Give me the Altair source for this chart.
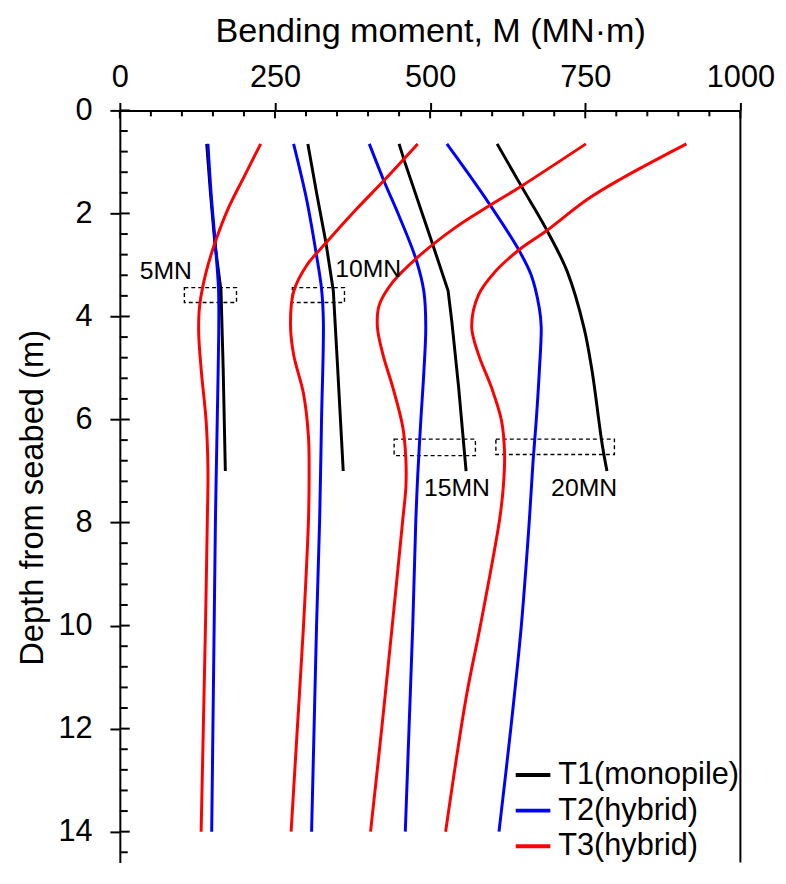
import altair as alt
import pandas as pd

FONT = "Liberation Sans, Arial, sans-serif"

series_names = ["T1(monopile)", "T2(hybrid)", "T3(hybrid)"]
series_colors = ["#000000", "#0000ff", "#ff0000"]
load_names = ["5MN", "10MN", "15MN", "20MN"]

# ---- T1 (monopile) ----
t1_5_depth = [0.65, 1.6, 2.56, 3.5, 5.0, 7.0]
t1_5_M = [140, 146, 153, 163, 166.5, 170]
t1_10_depth = [0.65, 1.6, 2.56, 3.5, 5.0, 7.0]
t1_10_M = [303, 317, 332, 344, 351, 360]
t1_15_depth = [0.65, 0.96, 2.56, 3.5, 4.1, 5.38, 7.0]
t1_15_M = [450, 458, 503, 529, 535, 546, 558]
t1_20_depth = [0.65, 1.47, 2.3, 3.13, 4.22, 5.06, 6.46, 7.0]
t1_20_M = [608, 647, 687, 721, 748, 761, 777, 785]

# ---- T2 (hybrid) ----
t2_5_depth = [0.65, 1.6, 2.56, 3.46, 4.1, 5.0, 6.0, 8.0, 10, 12, 14]
t2_5_M = [142, 147, 153.6, 159, 159.5, 158.5, 157, 154, 152, 150, 148]
t2_10_depth = [0.65, 1.73, 2.82, 3.46, 4.1, 6.02, 7.94, 10, 12, 14]
t2_10_M = [280, 301, 317, 325, 328, 325, 322, 317, 313, 309]
t2_15_depth = [0.65, 1.38, 2.05, 2.88, 3.52, 4.2, 5.06, 6.02, 7.1, 7.94, 10, 12, 14]
t2_15_M = [402, 426, 450, 477, 490, 493, 490, 485, 480, 477, 472, 466, 460]
t2_20_depth = [0.65, 1.15, 1.79, 2.69, 3.2, 3.84, 4.2, 5.06, 6.02, 6.79, 7.94, 10, 12, 14]
t2_20_M = [527, 557, 594, 642, 663, 676, 679, 676, 671, 666, 660, 647, 630, 611]

# ---- T3 (hybrid) ----
t3_5_depth = [0.65, 1.28, 1.92, 2.56, 3.14, 3.78, 4.29, 5.06, 6.02, 6.98, 7.94, 10, 12, 14]
t3_5_M = [227, 200.5, 174, 153.6, 139, 128.7, 127, 131.3, 139, 142, 141, 138, 134.5, 131]
t3_10_depth = [0.65, 1.38, 1.92, 2.56, 3.01, 3.52, 4.15, 4.74, 5.5, 6.34, 7.0, 7.94, 10, 12, 14]
t3_10_M = [480, 424, 381, 333, 301, 280, 275, 280, 296, 304, 305, 304, 296, 286, 276]
t3_15_depth = [0.65, 1.47, 1.86, 2.27, 2.88, 3.33, 3.78, 4.2, 4.74, 5.38, 6.15, 6.79, 7.3, 7.94, 10, 12, 14]
t3_15_M = [751, 647, 594, 541, 477, 440, 418, 415, 424, 440, 456, 461, 461, 456, 439, 422, 404]
t3_20_depth = [0.65, 1.34, 1.73, 2.34, 2.72, 3.14, 3.58, 4.2, 4.74, 5.38, 6.02, 6.66, 7.3, 7.94, 10, 11.4, 14]
t3_20_M = [913, 806, 753, 687, 642, 604, 578, 567, 578, 599, 615, 620, 618, 612, 581, 558, 525]

# ---- dashed boxes and labels ----
box_x1 = [104, 278, 442, 606]
box_x2 = [188, 362, 573, 797]
box_y1 = [3.44, 3.44, 6.38, 6.38]
box_y2 = [3.73, 3.73, 6.70, 6.68]
label_x = [32, 347, 490, 695]
label_y = [3.12, 3.08, 7.33, 7.33]

# ---- axis ticks ----
x_major = [0, 250, 500, 750, 1000]
x_minor = [50, 100, 150, 200, 300, 350, 400, 450, 550, 600, 650, 700, 800, 850, 900, 950]
y_major = [0, 2, 4, 6, 8, 10, 12, 14]
y_minor = [0.4, 0.8, 1.2, 1.6, 2.4, 2.8, 3.2, 3.6, 4.4, 4.8, 5.2, 5.6, 6.4, 6.8, 7.2, 7.6,
           8.4, 8.8, 9.2, 9.6, 10.4, 10.8, 11.2, 11.6, 12.4, 12.8, 13.2, 13.6, 14.4]

curves = [
    (series_names[0], "5MN", t1_5_depth, t1_5_M, "lin"),
    (series_names[0], "10MN", t1_10_depth, t1_10_M, "lin"),
    (series_names[0], "15MN", t1_15_depth, t1_15_M, "lin"),
    (series_names[0], "20MN", t1_20_depth, t1_20_M, "smooth"),
    (series_names[1], "5MN", t2_5_depth, t2_5_M, "smooth"),
    (series_names[1], "10MN", t2_10_depth, t2_10_M, "smooth"),
    (series_names[1], "15MN", t2_15_depth, t2_15_M, "smooth"),
    (series_names[1], "20MN", t2_20_depth, t2_20_M, "smooth"),
    (series_names[2], "5MN", t3_5_depth, t3_5_M, "smooth"),
    (series_names[2], "10MN", t3_10_depth, t3_10_M, "smooth"),
    (series_names[2], "15MN", t3_15_depth, t3_15_M, "smooth"),
    (series_names[2], "20MN", t3_20_depth, t3_20_M, "smooth"),
]
rows = []
for s, l, ds, ms, kind in curves:
    for i, (d, m) in enumerate(zip(ds, ms)):
        rows.append({"series": s, "load": l, "depth": d, "M": m, "idx": i, "kind": kind})
df = pd.DataFrame(rows)
df_lin = df[df.kind == "lin"]
df_smooth = df[df.kind == "smooth"]

boxes = pd.DataFrame({"x1": box_x1, "x2": box_x2, "y1": box_y1, "y2": box_y2})
labels = pd.DataFrame({"x": label_x, "y": label_y, "t": load_names})

W = 627
H = 760
Y_MAX = 14.6

xscale = alt.Scale(domain=[0, 1000], nice=False, zero=False)
yscale = alt.Scale(domain=[0, Y_MAX], nice=False, zero=False, reverse=True)

xaxis = alt.Axis(orient="top", values=x_major, format="d", title="Bending moment, M (MN·m)",
                 titleFont=FONT, titleFontSize=34.5, titleFontWeight="normal", titleColor="black",
                 titleBaseline="alphabetic", titleY=-70,
                 labelFont=FONT, labelFontSize=31, labelColor="black", labelBaseline="alphabetic",
                 labelPadding=16, labelFlush=False, labelOverlap=False,
                 tickSize=8, tickWidth=2, tickColor="black",
                 domainColor="black", domainWidth=2, grid=False)
yaxis = alt.Axis(orient="left", values=y_major, format="d", title="Depth from seabed (m)",
                 titleFont=FONT, titleFontSize=33, titleFontWeight="normal", titleColor="black",
                 titleAngle=270, titleAlign="center", titleBaseline="alphabetic",
                 titleX=-78, titleY=391,
                 labelFont=FONT, labelFontSize=31, labelColor="black", labelPadding=18,
                 labelFlush=False, labelOverlap=False,
                 tickSize=10, tickWidth=2, tickColor="black",
                 domainColor="black", domainWidth=2, grid=False)

color = alt.Color("series:N", scale=alt.Scale(domain=series_names, range=series_colors),
                  legend=alt.Legend(orient="none", legendX=398, legendY=652, title=None,
                                    symbolType="stroke", symbolSize=1225, symbolStrokeWidth=4,
                                    labelFont=FONT, labelFontSize=31, labelColor="black",
                                    labelLimit=400, labelOffset=6, rowPadding=1, padding=0))

box_layer = alt.Chart(boxes).mark_rect(fillOpacity=0, stroke="black", strokeWidth=1.4,
                                        strokeDash=[4, 3]).encode(
    x=alt.X("x1:Q", scale=xscale, axis=xaxis), x2="x2:Q",
    y=alt.Y("y1:Q", scale=yscale, axis=yaxis), y2="y2:Q")

line_lin = alt.Chart(df_lin).mark_line(strokeWidth=3, clip=True).encode(
    x=alt.X("M:Q", scale=xscale, axis=xaxis),
    y=alt.Y("depth:Q", scale=yscale, axis=yaxis),
    color=color, detail="load:N", order="idx:Q")

line_smooth = alt.Chart(df_smooth).mark_line(strokeWidth=3, clip=True, interpolate="catmull-rom").encode(
    x=alt.X("M:Q", scale=xscale, axis=xaxis),
    y=alt.Y("depth:Q", scale=yscale, axis=yaxis),
    color=color, detail="load:N", order="idx:Q")

text_layer = alt.Chart(labels).mark_text(align="left", baseline="middle", font=FONT,
                                         fontSize=25, color="black").encode(
    x=alt.X("x:Q", scale=xscale, axis=xaxis),
    y=alt.Y("y:Q", scale=yscale, axis=yaxis),
    text="t:N")

xmaj_in = alt.Chart(pd.DataFrame({"v": x_major})).mark_rule(color="black", strokeWidth=2).encode(
    x=alt.X("v:Q", scale=xscale, axis=xaxis), y=alt.value(0), y2=alt.value(8))
xmin_in = alt.Chart(pd.DataFrame({"v": x_minor})).mark_rule(color="black", strokeWidth=2).encode(
    x=alt.X("v:Q", scale=xscale, axis=xaxis), y=alt.value(0), y2=alt.value(6))
ymaj_in = alt.Chart(pd.DataFrame({"v": y_major})).mark_rule(color="black", strokeWidth=2).encode(
    y=alt.Y("v:Q", scale=yscale, axis=yaxis), x=alt.value(0), x2=alt.value(10))
ymin_in = alt.Chart(pd.DataFrame({"v": y_minor})).mark_rule(color="black", strokeWidth=2).encode(
    y=alt.Y("v:Q", scale=yscale, axis=yaxis), x=alt.value(0), x2=alt.value(8))
right_spine = alt.Chart(pd.DataFrame({"v": [1000]})).mark_rule(color="black", strokeWidth=2).encode(
    x=alt.X("v:Q", scale=xscale, axis=xaxis), y=alt.value(0), y2=alt.value(H))

chart = alt.layer(box_layer, line_lin, line_smooth, text_layer,
                  xmaj_in, xmin_in, ymaj_in, ymin_in, right_spine).properties(
    width=W, height=H,
    padding={"left": 113, "top": 99, "right": 38, "bottom": 0},
    autosize=alt.AutoSizeParams(type="none"),
    background="white",
).configure_view(stroke=None)

chart.save("out.html", embed_options={"renderer": "svg", "actions": False})
